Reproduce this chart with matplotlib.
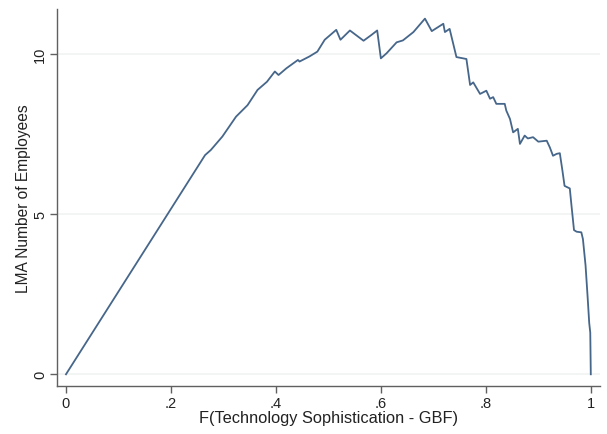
import numpy as np
import matplotlib
matplotlib.use("Agg")
import matplotlib.pyplot as plt

# values
share = [0.0, 0.265, 0.276, 0.298, 0.324, 0.346, 0.365, 0.383, 0.398, 0.405,
         0.420, 0.442, 0.445, 0.464, 0.479, 0.493, 0.515, 0.523, 0.541, 0.567,
         0.582, 0.593, 0.600, 0.611, 0.630, 0.642, 0.662, 0.684, 0.697, 0.719,
         0.722, 0.731, 0.744, 0.763, 0.770, 0.776, 0.789, 0.801, 0.808, 0.814,
         0.820, 0.836, 0.839, 0.846, 0.852, 0.861, 0.865, 0.874, 0.880, 0.890,
         0.900, 0.916, 0.922, 0.928, 0.935, 0.941, 0.946, 0.950, 0.960, 0.963,
         0.968, 0.973, 0.982, 0.985, 0.990, 0.994, 0.997, 0.999, 1.000]
employees = [0.0, 6.84, 7.0, 7.42, 8.04, 8.4, 8.875, 9.13, 9.45, 9.34,
             9.55, 9.81, 9.76, 9.92, 10.07, 10.44, 10.75, 10.44, 10.73, 10.41,
             10.59, 10.73, 9.86, 10.02, 10.36, 10.42, 10.68, 11.1, 10.71, 10.94,
             10.68, 10.78, 9.9, 9.84, 9.03, 9.11, 8.75, 8.85, 8.6, 8.65,
             8.44, 8.44, 8.23, 7.97, 7.55, 7.66, 7.19, 7.45, 7.36, 7.4,
             7.26, 7.29, 7.08, 6.82, 6.88, 6.9, 6.35, 5.88, 5.8, 5.3,
             4.5, 4.45, 4.43, 4.22, 3.4, 2.4, 1.6, 1.3, 0.0]

xticks = [0, 0.2, 0.4, 0.6, 0.8, 1.0]
xticklabels = ["0", ".2", ".4", ".6", ".8", "1"]
yticks = [0, 5, 10]

plt.rcParams['font.family'] = ['Liberation Sans', 'DejaVu Sans']

fig = plt.figure(figsize=(6.07, 4.35), dpi=100)
ax = fig.add_axes([0.094, 0.110, 0.894, 0.867])

for yv in yticks:
    ax.axhline(yv, color='#f1f2f2', linewidth=1.2, zorder=0)

ax.plot(share, employees, color='#46668a', linewidth=1.3)

ax.set_xlim(-0.017, 1.017)
ax.set_ylim(-0.37, 11.4)
ax.set_xticks(xticks)
ax.set_xticklabels(xticklabels)
ax.set_yticks(yticks)
ax.set_yticklabels([str(v) for v in yticks], rotation=90, va='center')

ax.spines['top'].set_visible(False)
ax.spines['right'].set_visible(False)
for s in ['left', 'bottom']:
    ax.spines[s].set_color('#606060')
    ax.spines[s].set_linewidth(1.0)
ax.tick_params(axis='both', direction='out', length=5, width=1,
               color='#606060', labelsize=10.5, labelcolor='#222222', pad=2)

ax.set_xlabel('F(Technology Sophistication - GBF)', fontsize=11.8, color='#222222', labelpad=0)
ax.set_ylabel('LMA Number of Employees', fontsize=11.2, color='#222222', labelpad=2)

fig.savefig('out.png', dpi=100)
